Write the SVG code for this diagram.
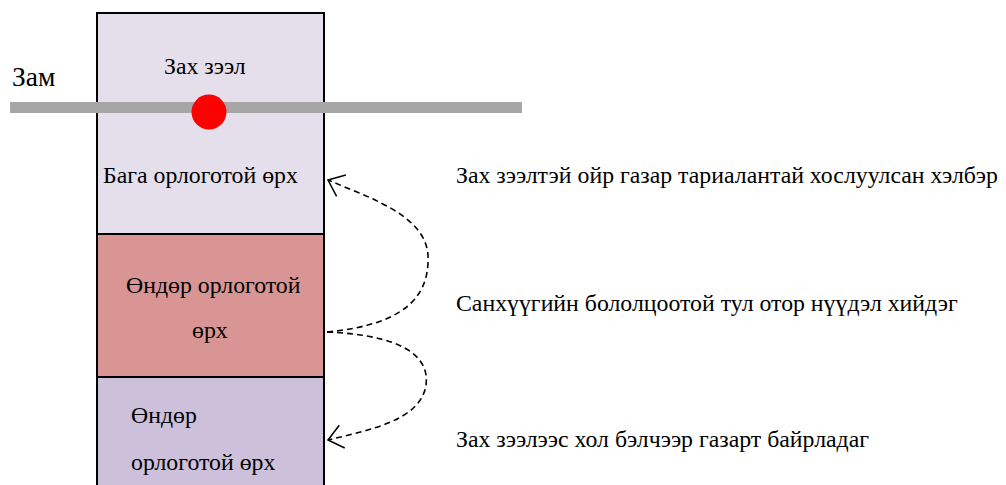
<svg xmlns="http://www.w3.org/2000/svg" width="1006" height="485" viewBox="0 0 1006 485">
<style>
text{font-family:"Liberation Serif","Times New Roman",serif;font-size:23.8px;fill:#000}
.box{stroke:#000;stroke-width:2}
.conn{fill:none;stroke:#000;stroke-width:1.6;stroke-dasharray:6 4}
</style>
<defs>
<marker id="open" viewBox="0 0 20 30" refX="19" refY="15" markerWidth="18" markerHeight="27" markerUnits="userSpaceOnUse" orient="auto">
<path d="M3,2 L19,15 L3,28" fill="none" stroke="#000" stroke-width="1.7"/>
</marker>
</defs>
<rect width="1006" height="485" fill="#fff"/>
<g id="node-low">
<rect class="box" x="97" y="13" width="227" height="221" fill="#E5DFEC"/>
<text x="164" y="74">Зах зээл</text>
<text x="103" y="183">Бага орлоготой өрх</text>
</g>
<g id="node-high">
<rect class="box" x="97" y="234" width="227" height="143" fill="#D99594"/>
<text x="126" y="293">Өндөр орлоготой</text>
<text x="192" y="338">өрх</text>
</g>
<g id="node-high2">
<rect class="box" x="97" y="377" width="227" height="110" fill="#CCC0DA"/>
<text x="131" y="423">Өндөр</text>
<text x="131" y="470">орлоготой өрх</text>
</g>
<g id="road">
<line x1="10" y1="107.5" x2="522" y2="107.5" stroke="#A6A6A6" stroke-width="11"/>
<circle cx="209" cy="112" r="17.5" fill="#FF0000"/>
<text x="12" y="86" style="font-size:27.5px">Зам</text>
</g>
<g id="connectors">
<path class="conn" d="M327,332 C400,325 430,300 428,255 C425,215 370,198 328,180" marker-end="url(#open)"/>
<path class="conn" d="M327,332 C400,335 430,355 426,385 C421,420 370,430 328,440" marker-end="url(#open)"/>
</g>
<g id="labels">
<text x="456" y="183">Зах зээлтэй ойр газар тариалантай хослуулсан хэлбэр</text>
<text x="456" y="311">Санхүүгийн бололцоотой тул отор нүүдэл хийдэг</text>
<text x="456" y="447">Зах зээлээс хол бэлчээр газарт байрладаг</text>
</g>
</svg>
